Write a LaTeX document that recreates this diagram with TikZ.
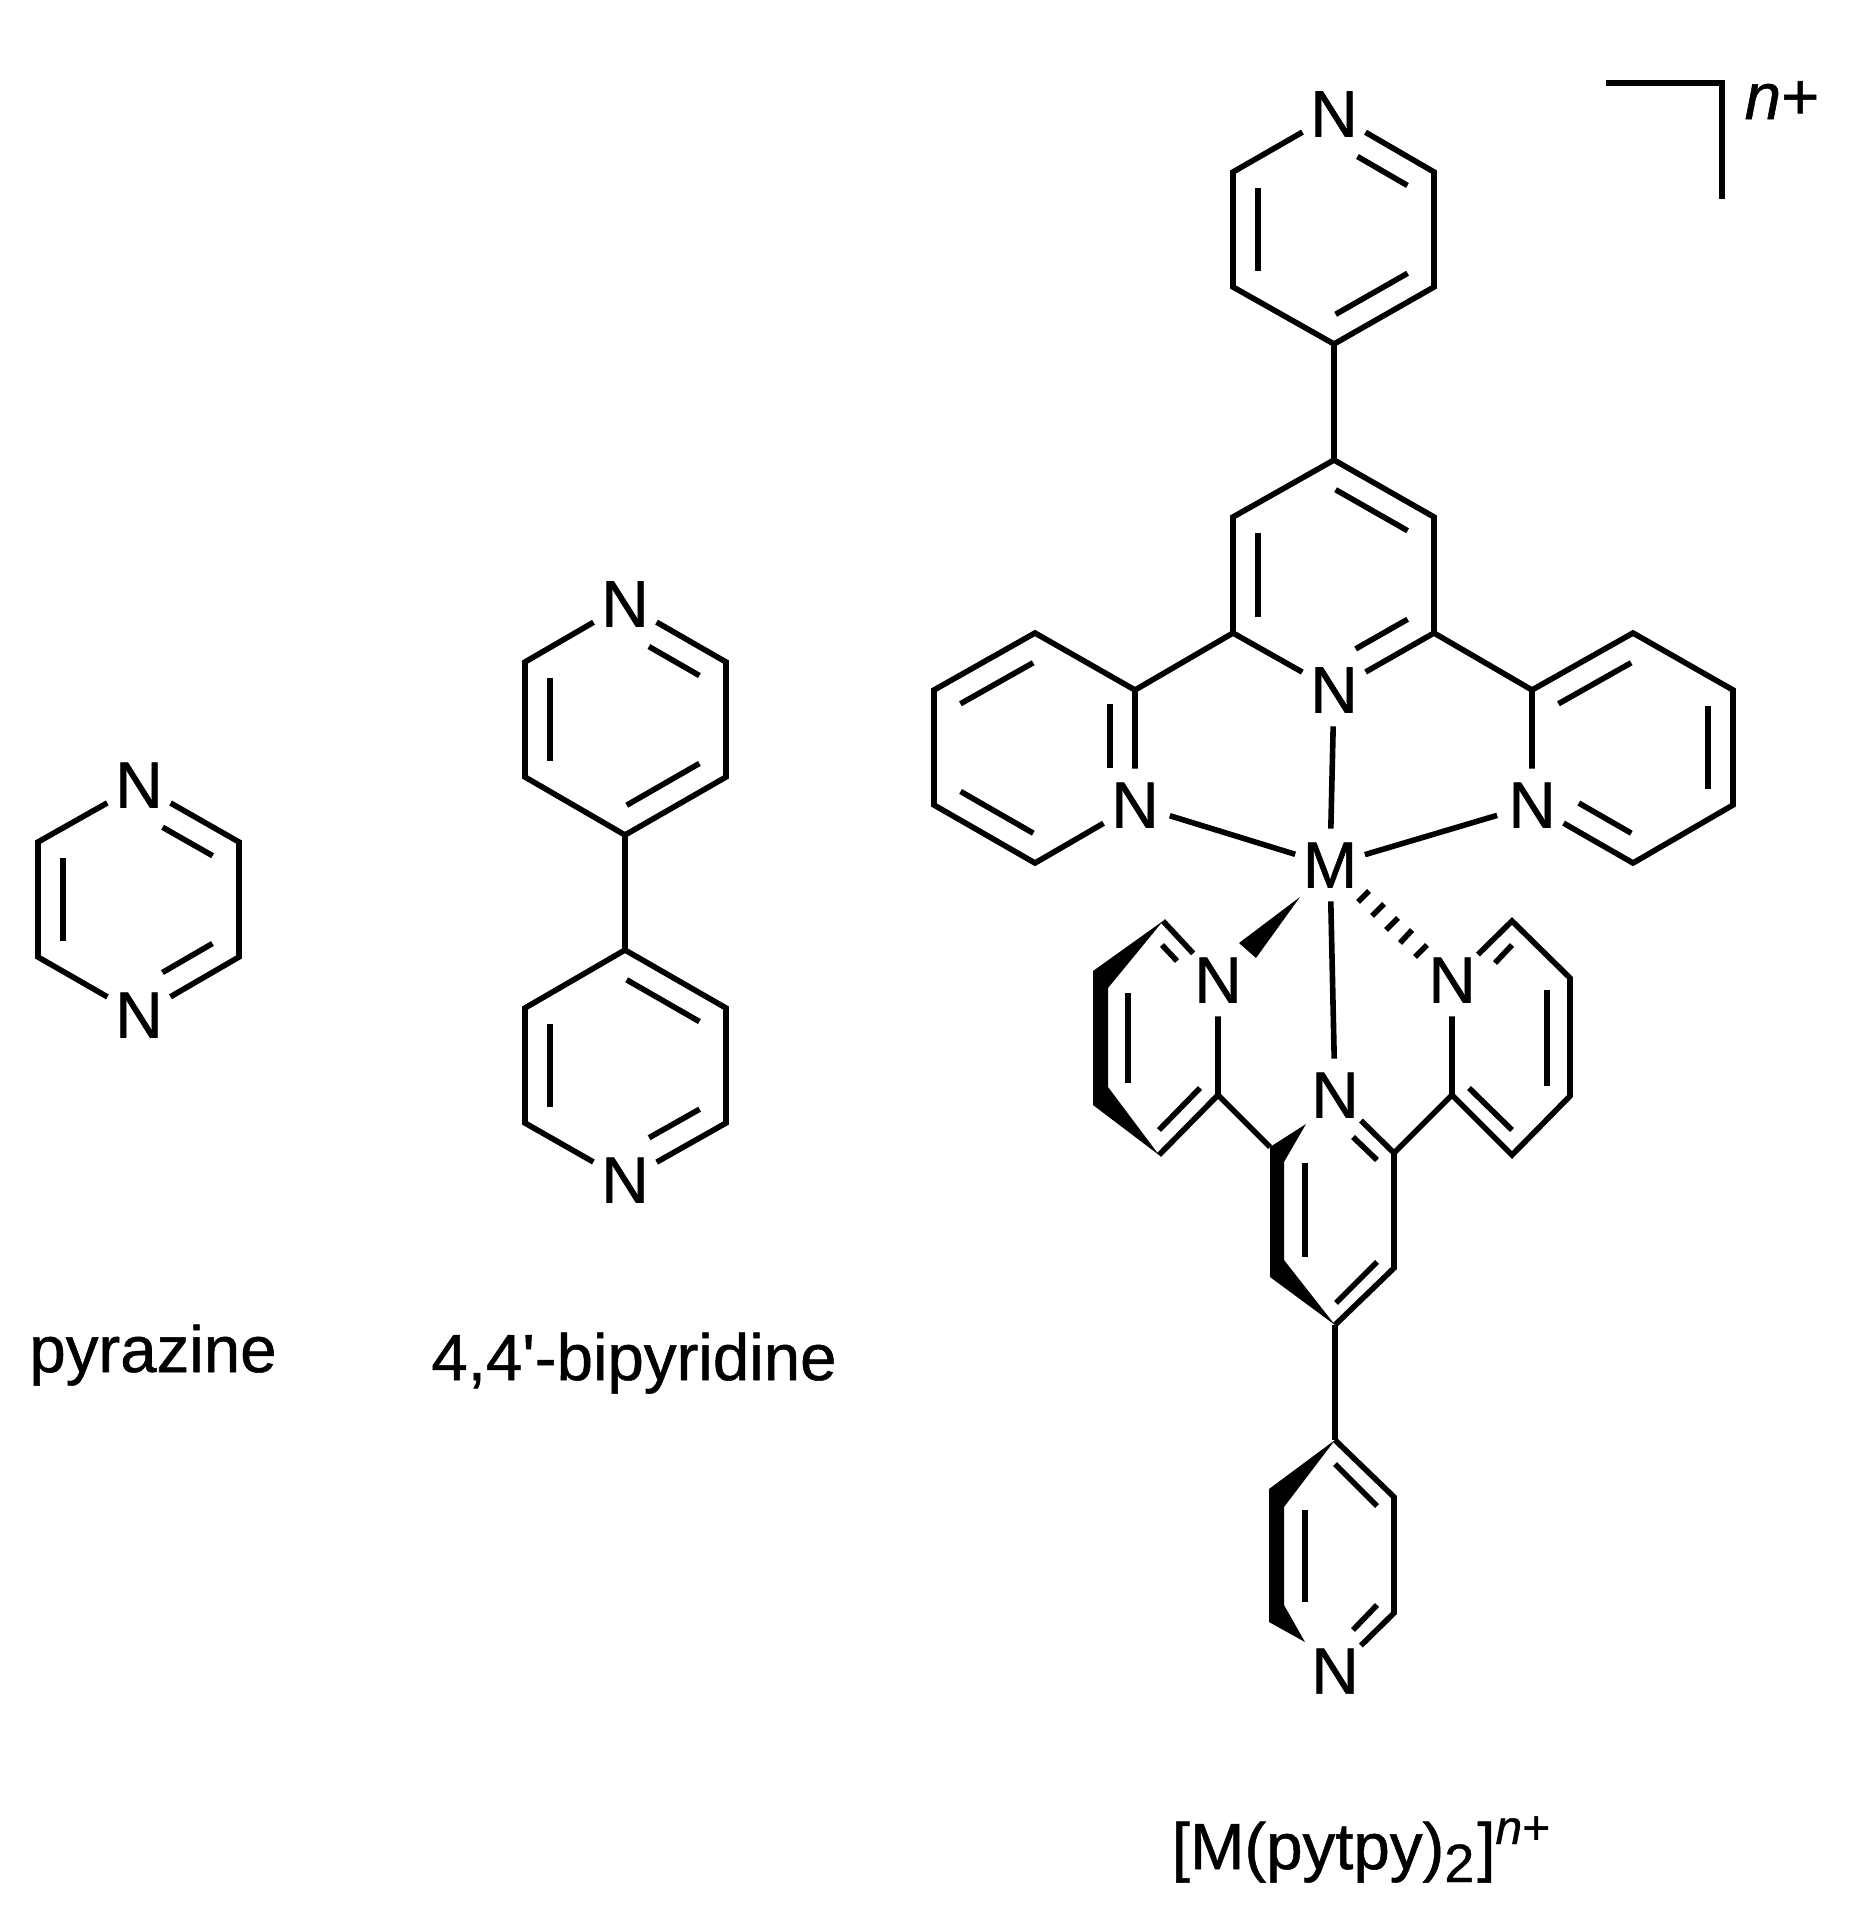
\documentclass[tikz,border=0pt]{standalone}
\usepackage{fontspec}
\usetikzlibrary{calc}
\newfontfamily\labf[FakeBold=0.8]{Liberation Sans}
\newcommand{\dbl}[4]{\draw[bond] ($(#1)!#3!(#2)!12.5pt!-90:(#2)$) -- ($(#1)!#4!(#2)!12.5pt!-90:(#2)$);}
\tikzset{
  bond/.style={line width=2.8pt,line cap=butt,line join=miter,miter limit=10},
  atom/.style={circle,inner sep=0pt,minimum size=36pt,font=\labf\fontsize{32.7}{36}\selectfont,text=black},
  caption/.style={anchor=base,inner sep=0pt,font=\labf\fontsize{32.7}{36}\selectfont,text=black},
  solid wedge/.style={fill=black,draw=none}
}
\begin{document}
\begin{tikzpicture}[x=0.5pt,y=-0.5pt]
\useasboundingbox (0,0) rectangle (1862,1922);
% pyrazine
\node[atom] (pzT) at (139,785) {N};
\node[atom] (pzB) at (139,1015) {N};
\coordinate (pzR1) at (239,842);
\coordinate (pzR2) at (239,957);
\coordinate (pzL2) at (38,957);
\coordinate (pzL1) at (38,842);
\draw[bond] (pzT) -- (pzR1) -- (pzR2) -- (pzB);
\draw[bond] (pzB) -- (pzL2) -- (pzL1) -- (pzT);
\dbl{pzT}{pzR1}{.36}{.86}
\dbl{pzR2}{pzB}{.14}{.64}
\dbl{pzL2}{pzL1}{.14}{.86}
% 4,4'-bipyridine
\node[atom] (byT) at (625,604) {N};
\coordinate (byA1) at (726,662);
\coordinate (byA2) at (726,777);
\coordinate (byA3) at (625,835);
\coordinate (byA4) at (525,777);
\coordinate (byA5) at (525,662);
\draw[bond] (byT) -- (byA1) -- (byA2) -- (byA3) -- (byA4) -- (byA5) -- (byT);
\dbl{byT}{byA1}{.36}{.86}
\dbl{byA2}{byA3}{.14}{.86}
\dbl{byA4}{byA5}{.14}{.86}
\node[atom] (byB) at (625,1180) {N};
\coordinate (byC1) at (625,950);
\coordinate (byC2) at (726,1008);
\coordinate (byC3) at (726,1123);
\coordinate (byC4) at (525,1123);
\coordinate (byC5) at (525,1008);
\draw[bond] (byB) -- (byC4) -- (byC5) -- (byC1) -- (byC2) -- (byC3) -- (byB);
\draw[bond] (byA3) -- (byC1);
\dbl{byC1}{byC2}{.14}{.86}
\dbl{byC3}{byB}{.14}{.64}
\dbl{byC4}{byC5}{.14}{.86}
% upper ligand: terminal pyridine
\node[atom] (tN) at (1334,114) {N};
\coordinate (t1) at (1434,172);
\coordinate (t2) at (1434,287);
\coordinate (t3) at (1334,344);
\coordinate (t4) at (1233,287);
\coordinate (t5) at (1233,172);
\draw[bond] (tN) -- (t1) -- (t2) -- (t3) -- (t4) -- (t5) -- (tN);
\dbl{tN}{t1}{.36}{.86}
\dbl{t2}{t3}{.14}{.86}
\dbl{t4}{t5}{.14}{.86}
% upper ligand: central ring
\node[atom] (cN) at (1334,690) {N};
\coordinate (c1) at (1334,460);
\coordinate (c2) at (1434,517);
\coordinate (c3) at (1434,633);
\coordinate (c4) at (1233,633);
\coordinate (c5) at (1233,517);
\draw[bond] (cN) -- (c4) -- (c5) -- (c1) -- (c2) -- (c3) -- (cN);
\draw[bond] (t3) -- (c1);
\dbl{c1}{c2}{.14}{.86}
\dbl{c3}{cN}{.14}{.66}
\dbl{c4}{c5}{.14}{.86}
% upper ligand: left ring
\node[atom] (lN) at (1135,805) {N};
\coordinate (l1) at (1135,690);
\coordinate (l2) at (1035,633);
\coordinate (l3) at (934,690);
\coordinate (l4) at (934,805);
\coordinate (l5) at (1035,863);
\draw[bond] (lN) -- (l1) -- (l2) -- (l3) -- (l4) -- (l5) -- (lN);
\draw[bond] (c4) -- (l1);
\dbl{l1}{lN}{.12}{.68}
\dbl{l3}{l2}{.86}{.14}
\dbl{l5}{l4}{.14}{.86}
% upper ligand: right ring
\node[atom] (rN) at (1532,805) {N};
\coordinate (r1) at (1532,690);
\coordinate (r2) at (1633,633);
\coordinate (r3) at (1733,690);
\coordinate (r4) at (1733,805);
\coordinate (r5) at (1633,863);
\draw[bond] (rN) -- (r1) -- (r2) -- (r3) -- (r4) -- (r5) -- (rN);
\draw[bond] (c3) -- (r1);
\dbl{r1}{r2}{.14}{.86}
\dbl{r3}{r4}{.14}{.86}
\dbl{r5}{rN}{.14}{.66}
% metal
\node[atom] (M) at (1330,865) {M};
\draw[bond] (lN) -- (M);
\draw[bond] (rN) -- (M);
\draw[bond] (cN) -- (M);
% lower ligand atoms
\node[atom] (bNL) at (1218,980) {N};
\node[atom] (bNC) at (1335,1095) {N};
\node[atom] (bNR) at (1452,980) {N};
\node[atom] (bNT) at (1335,1671) {N};
\draw[bond] (M) -- (bNC);
% wedge and hashed bonds from metal
\coordinate (wTip) at (1300,897);
\coordinate (wB1) at (1239,943);
\coordinate (wB2) at (1256,958);
\fill[solid wedge] (wTip) -- (wB1) -- (wB2) -- cycle;
\coordinate (hA1) at (1358,902);\coordinate (hA2) at (1369,891);
\coordinate (hB1) at (1372,916);\coordinate (hB2) at (1384,904);
\coordinate (hC1) at (1386,930);\coordinate (hC2) at (1398,918);
\coordinate (hD1) at (1400,943);\coordinate (hD2) at (1412,930);
\coordinate (hE1) at (1415,957);\coordinate (hE2) at (1427,945);
\draw[bond] (hA1) -- (hA2);
\draw[bond] (hB1) -- (hB2);
\draw[bond] (hC1) -- (hC2);
\draw[bond] (hD1) -- (hD2);
\draw[bond] (hE1) -- (hE2);
% lower left ring
\coordinate (aJ) at (1218,1095);
\coordinate (aB) at (1159,1155);
\coordinate (aO2) at (1093,1105);
\coordinate (aI2) at (1108,1087);
\coordinate (aO1) at (1093,971);
\coordinate (aI1) at (1108,988);
\coordinate (aT) at (1163,921);
\fill[solid wedge] (aB) -- (aO2) -- (aO1) -- (aT) -- (aI1) -- (aI2) -- cycle;
\draw[bond] (aT) -- (bNL);
\draw[bond] (bNL) -- (aJ) -- (aB);
\coordinate (aD1) at (1162,945);\coordinate (aD2) at (1177,961);
\draw[bond] (aD1) -- (aD2);
\coordinate (aD3) at (1128,993);\coordinate (aD4) at (1128,1083);
\draw[bond] (aD3) -- (aD4);
\coordinate (aD5) at (1200,1088);\coordinate (aD6) at (1159,1130);
\draw[bond] (aD5) -- (aD6);
% lower central ring
\coordinate (dL) at (1270,1147);
\coordinate (dTip) at (1306,1124);
\coordinate (dO) at (1270,1277);
\coordinate (dI2) at (1284,1260);
\coordinate (dI1) at (1284,1162);
\coordinate (dB) at (1335,1325);
\coordinate (dR2) at (1394,1268);
\coordinate (dR1) at (1394,1153);
\fill[solid wedge] (dTip) -- (dL) -- (dO) -- (dB) -- (dI2) -- (dI1) -- cycle;
\draw[bond] (aJ) -- (dL);
\draw[bond] (dB) -- (dR2) -- (dR1) -- (bNC);
\coordinate (dD1) at (1305,1163);\coordinate (dD2) at (1305,1257);
\draw[bond] (dD1) -- (dD2);
\coordinate (dD3) at (1336,1303);\coordinate (dD4) at (1377,1262);
\draw[bond] (dD3) -- (dD4);
\coordinate (dD5) at (1353,1137);\coordinate (dD6) at (1377,1160);
\draw[bond] (dD5) -- (dD6);
% lower right ring
\coordinate (eJ) at (1452,1095);
\coordinate (eB) at (1512,1155);
\coordinate (eR2) at (1570,1096);
\coordinate (eR1) at (1570,978);
\coordinate (eT) at (1512,921);
\draw[bond] (dR1) -- (eJ);
\draw[bond] (bNR) -- (eJ) -- (eB) -- (eR2) -- (eR1) -- (eT) -- (bNR);
\coordinate (eD1) at (1495,963);\coordinate (eD2) at (1512,945);
\draw[bond] (eD1) -- (eD2);
\coordinate (eD3) at (1547,990);\coordinate (eD4) at (1547,1086);
\draw[bond] (eD3) -- (eD4);
\coordinate (eD5) at (1469,1088);\coordinate (eD6) at (1512,1130);
\draw[bond] (eD5) -- (eD6);
% lower terminal pyridine
\coordinate (fT) at (1335,1440);
\coordinate (fO1) at (1269,1489);
\coordinate (fI1) at (1284,1507);
\coordinate (fO2) at (1269,1622);
\coordinate (fI2) at (1284,1605);
\coordinate (fTip) at (1305,1642);
\coordinate (fR1) at (1394,1497);
\coordinate (fR2) at (1394,1613);
\fill[solid wedge] (fT) -- (fO1) -- (fO2) -- (fTip) -- (fI2) -- (fI1) -- cycle;
\draw[bond] (dB) -- (fT);
\draw[bond] (fT) -- (fR1) -- (fR2) -- (bNT);
\coordinate (fD1) at (1305,1510);\coordinate (fD2) at (1305,1602);
\draw[bond] (fD1) -- (fD2);
\coordinate (fD3) at (1335,1464);\coordinate (fD4) at (1377,1506);
\draw[bond] (fD3) -- (fD4);
\coordinate (fD5) at (1377,1605);\coordinate (fD6) at (1353,1630);
\draw[bond] (fD5) -- (fD6);
% bracket
\coordinate (brA) at (1606,83);
\coordinate (brB) at (1722,83);
\coordinate (brC) at (1722,199);
\draw[bond] (brA) -- (brB) -- (brC);
\node[caption] (charge) at (1782,119) {\itshape n\upshape +};
% captions
\node[caption] (capPz) at (153,1372) {pyrazine};
\node[caption] (capBy) at (634,1380) {4,4'-bipyridine};
\node[caption] (capM) at (1361,1869) {[M(pytpy){\fontsize{27}{28}\selectfont\raisebox{-6.5pt}{2}}\kern1.5pt]{\fontsize{24}{25}\selectfont\raisebox{12.5pt}{\itshape n\upshape +}}};
\end{tikzpicture}
\end{document}
